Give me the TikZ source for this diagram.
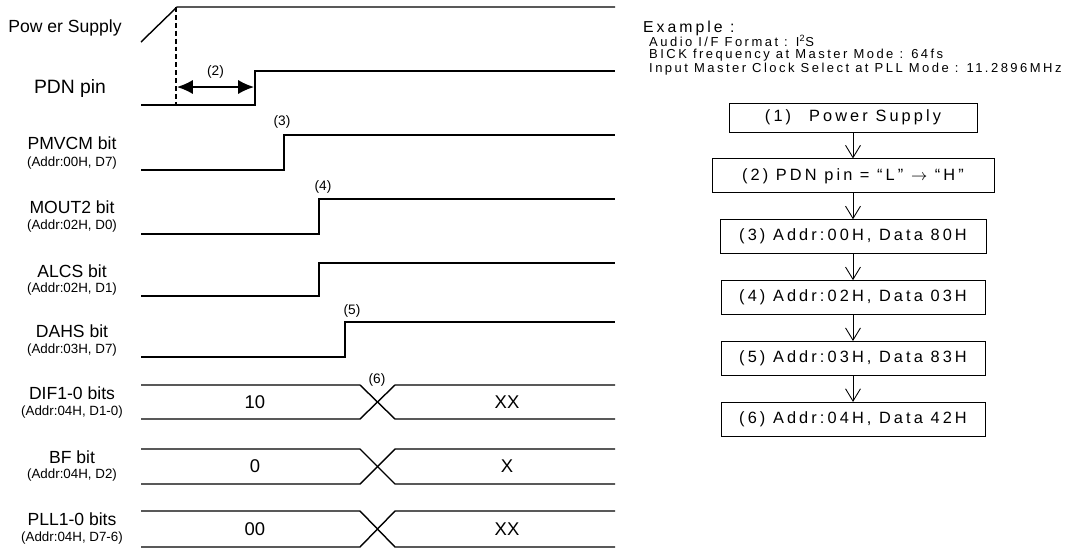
\documentclass[tikz,border=0pt]{standalone}
\usepackage{fontspec}
\setmainfont{Liberation Sans}
\newfontfamily\spacedfont[LetterSpace=19]{Liberation Sans}
\usepackage{tikz}
\usetikzlibrary{arrows.meta,positioning}

\tikzset{
  sig/.style={line width=0.8pt},
  sname/.style={font=\fontsize{10}{12}\selectfont},
  saddr/.style={font=\fontsize{7.6}{9}\selectfont},
  snum/.style={font=\fontsize{7.8}{9}\selectfont},
  sval/.style={font=\fontsize{10.5}{12}\selectfont},
  exline/.style={anchor=west,font=\spacedfont\fontsize{7.4}{8}\selectfont},
  flowbox/.style={draw,line width=0.5pt,minimum width=5.28cm,minimum height=0.68cm,
    inner sep=0pt,font=\spacedfont\fontsize{9.3}{10}\selectfont},
  flowarrow/.style={-{Straight Barb[length=7pt,width=8.5pt]},line width=0.5pt}
}

\begin{document}
\begin{tikzpicture}[x=0.02cm,y=-0.02cm]
  \useasboundingbox (0,0) rectangle (1066,552);

  % signal names
  \node[sname] (psname) at (65,28) {Pow er Supply};
  \node[sname,font=\fontsize{11}{12}\selectfont] (pdnname) at (70,88) {PDN pin};
  \node[sname] (pmvname) at (72,143) {PMVCM bit};
  \node[saddr] (pmvaddr) at (72,163) {(Addr:00H, D7)};
  \node[sname] (moutname) at (72,207) {MOUT2 bit};
  \node[saddr] (moutaddr) at (72,226) {(Addr:02H, D0)};
  \node[sname] (alcsname) at (72,271) {ALCS bit};
  \node[saddr] (alcsaddr) at (72,289) {(Addr:02H, D1)};
  \node[sname] (dahsname) at (72,331) {DAHS bit};
  \node[saddr] (dahsaddr) at (72,350) {(Addr:03H, D7)};
  \node[sname] (difname) at (72,393) {DIF1-0 bits};
  \node[saddr] (difaddr) at (72,412) {(Addr:04H, D1-0)};
  \node[sname] (bfname) at (72,457) {BF bit};
  \node[saddr] (bfaddr) at (72,475) {(Addr:04H, D2)};
  \node[sname] (pllname) at (72,519) {PLL1-0 bits};
  \node[saddr] (plladdr) at (72,538) {(Addr:04H, D7-6)};

  % waveforms
  \draw[sig] (141,42) -- (177,7) -- (615,7);
  \draw[sig,dash pattern=on 2.8pt off 1.7pt] (176,7) -- (176,105);
  \draw[sig] (141,105) -- (255,105) -- (255,71) -- (615,71);
  \draw[{Latex[length=9pt,width=8pt]}-{Latex[length=9pt,width=8pt]},line width=0.8pt]
    (177,87) -- node[above=1pt,snum] (t2) {(2)} (254,87);
  \draw[sig] (141,170) -- (284,170) -- (284,135) -- (615,135);
  \node[snum] (t3) at (282,122) {(3)};
  \draw[sig] (141,234) -- (319,234) -- (319,199) -- (615,199);
  \node[snum] (t4) at (323,187) {(4)};
  \draw[sig] (141,296) -- (319,296) -- (319,263) -- (615,263);
  \draw[sig] (141,357) -- (345,357) -- (345,322) -- (615,322);
  \node[snum] (t5) at (352,311) {(5)};

  % register buses
  \foreach \yt/\yb/\vold/\vnew in {385/419/10/XX, 449/484/0/X, 511/547/00/XX}{
    \draw[sig] (141,\yt) -- (360,\yt) -- (395,\yb) -- (615,\yb);
    \draw[sig] (141,\yb) -- (360,\yb) -- (395,\yt) -- (615,\yt);
    \node[sval] at (255,{(\yt+\yb)/2}) {\vold};
    \node[sval] at (507,{(\yt+\yb)/2}) {\vnew};
  }
  \node[snum] (t6) at (377,380) {(6)};

  % example settings
  \node[anchor=west,font=\spacedfont\fontsize{9}{10}\selectfont] (extitle) at (637,28) {Example :};
  \node[exline] (exfmt) at (643,41) {Audio I/F Format : I\textsuperscript{2}S};
  \node[exline] (exbick) at (643,55) {BICK frequency at Master Mode : 64fs};
  \node[exline] (exmclk) at (643,69) {Input Master Clock Select at PLL Mode : 11.2896MHz};

  % sequence
  \node[flowbox,minimum width=4.96cm,minimum height=0.58cm] (b1) at (853,117.5)
    {(1)\hspace{1.1em}Power Supply\hspace{18pt}};
  \node[flowbox,minimum width=5.64cm,below=0.52cm of b1] (b2)
    {(2) PDN pin = “L” $\rightarrow$ “H”\hspace{11pt}};
  \node[flowbox,minimum width=5.32cm,below=0.52cm of b2] (b3) {(3) Addr:00H, Data 80H};
  \node[flowbox,below=0.52cm of b3] (b4) {(4) Addr:02H, Data 03H};
  \node[flowbox,below=0.52cm of b4] (b5) {(5) Addr:03H, Data 83H};
  \node[flowbox,below=0.52cm of b5] (b6) {(6) Addr:04H, Data 42H};
  \draw[flowarrow] (b1) -- (b2);
  \draw[flowarrow] (b2) -- (b3);
  \draw[flowarrow] (b3) -- (b4);
  \draw[flowarrow] (b4) -- (b5);
  \draw[flowarrow] (b5) -- (b6);
\end{tikzpicture}
\end{document}
